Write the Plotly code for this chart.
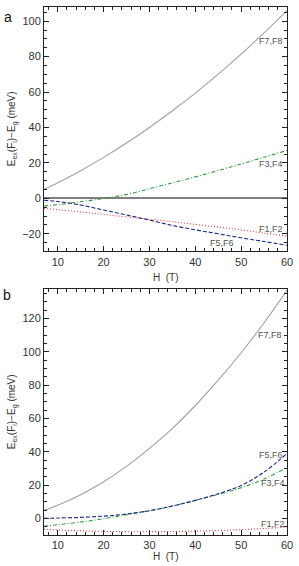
import plotly.graph_objects as go

H = [7, 10, 15, 20, 25, 30, 35, 40, 45, 50, 55, 60]

# Panel a
a_F7F8 = [5.0, 8.8, 15.6, 23.1, 31.2, 40.0, 49.4, 59.4, 70.1, 81.4, 93.4, 106.0]
a_F3F4 = [-4.3, -3.6, -1.9, -0.1, 2.2, 5.4, 8.7, 12.1, 15.7, 19.4, 23.2, 27.0]
a_F1F2 = [-5.6, -6.4, -7.7, -9.1, -10.5, -11.8, -13.2, -14.7, -16.2, -17.8, -19.6, -21.4]
a_F5F6 = [-1.1, -1.8, -3.8, -6.6, -9.4, -12.3, -15.3, -17.8, -20.0, -22.3, -24.4, -26.5]

# Panel b
b_F7F8 = [4.8, 7.9, 14.2, 22.0, 31.2, 42.0, 54.0, 67.8, 83.0, 99.5, 117.5, 137.0]
b_F5F6 = [0.0, 0.2, 0.6, 1.3, 2.6, 4.6, 7.4, 10.8, 14.8, 19.8, 27.8, 39.0]
b_F3F4 = [-4.8, -3.8, -2.2, -0.2, 2.2, 4.6, 7.4, 10.8, 14.4, 18.4, 23.6, 30.5]
b_F1F2 = [-6.5, -7.0, -7.5, -7.8, -8.0, -8.0, -7.9, -7.7, -7.3, -6.8, -6.1, -5.3]

x_ticks = [10, 20, 30, 40, 50, 60]
a_yticks = [-20, 0, 20, 40, 60, 80, 100]
b_yticks = [0, 20, 40, 60, 80, 100, 120]

GRAY = "#a0a0a0"
GREEN = "#2f9a3a"
BLUE = "#1c2a8a"
RED = "#d83a3a"

DASH = "4px,2px"
DASHDOT = "4px,2px,1px,2px"
DOT = "1px,2px"

fig = go.Figure()

def add(y, color, dash, xa, ya, width=1.1):
    fig.add_trace(go.Scatter(x=H, y=y, mode="lines", xaxis=xa, yaxis=ya,
                             line=dict(color=color, dash=dash, width=width, shape="spline"),
                             showlegend=False, hoverinfo="skip"))

add(a_F7F8, GRAY, "solid", "x", "y")
add(a_F3F4, GREEN, DASHDOT, "x", "y")
add(a_F1F2, RED, DOT, "x", "y")
add(a_F5F6, BLUE, DASH, "x", "y")

add(b_F7F8, GRAY, "solid", "x2", "y2")
add(b_F3F4, GREEN, DASHDOT, "x2", "y2")
add(b_F1F2, RED, DOT, "x2", "y2")
add(b_F5F6, BLUE, DASH, "x2", "y2")

font = "Liberation Sans, Arial, sans-serif"
axcol = "#222222"

def xax(anchor):
    return dict(anchor=anchor, range=[7, 60], tickvals=x_ticks, ticks="inside", ticklen=5,
                tickcolor=axcol, showline=True, linecolor=axcol, linewidth=1, mirror="allticks",
                showgrid=False, zeroline=False, tickfont=dict(size=11, color="#333", family=font),
                minor=dict(dtick=2, tick0=0, ticks="inside", ticklen=3, tickcolor=axcol))

def yax(anchor, rng, tv, domain, zero):
    return dict(anchor=anchor, range=rng, tickvals=tv, ticks="inside", ticklen=5, domain=domain,
                tickcolor=axcol, showline=True, linecolor=axcol, linewidth=1, mirror="allticks",
                showgrid=False, zeroline=zero, zerolinecolor="#808080", zerolinewidth=2,
                tickfont=dict(size=11, color="#333", family=font),
                minor=dict(dtick=5, tick0=0, ticks="inside", ticklen=3, tickcolor=axcol))

fig.update_layout(
    width=299, height=566,
    margin=dict(l=44, r=9, t=6, b=31),
    paper_bgcolor="white", plot_bgcolor="white",
    font=dict(family=font, color="#333"),
    xaxis=xax("y"),
    yaxis=yax("x", [-30, 108], a_yticks, [0.537, 1.0], True),
    xaxis2=xax("y2"),
    yaxis2=yax("x2", [-10, 137.5], b_yticks, [0.0, 0.465], False),
)

ann = []
def label(text, x, y, xr, yr):
    ann.append(dict(text=text, x=x, y=y, xref=xr, yref=yr, showarrow=False,
                    font=dict(size=9, color="#555", family=font)))

label("F7,F8", 56.6, 89, "x", "y")
label("F3,F4", 56.6, 19.5, "x", "y")
label("F1,F2", 56.6, -17.3, "x", "y")
label("F5,F6", 45.8, -25.5, "x", "y")

label("F7,F8", 56.2, 110, "x2", "y2")
label("F5,F6", 56.6, 37.8, "x2", "y2")
label("F3,F4", 57.0, 21, "x2", "y2")
label("F1,F2", 57.0, -3.5, "x2", "y2")

ytitle = "E<sub>ex</sub>(F<sub>i</sub>)\u2212E<sub>g</sub> (meV)"
for yr in ["y domain", "y2 domain"]:
    ann.append(dict(text=ytitle, x=0, xref="paper", y=0.5, yref=yr, xshift=-32,
                    xanchor="center", yanchor="middle",
                    textangle=-90, showarrow=False, font=dict(size=10, color="#333", family=font)))
for xr, yr, sh in [("x domain", "y domain", -26), ("x2 domain", "y2 domain", -21)]:
    ann.append(dict(text="H  (T)", x=0.5, xref=xr, y=0, yref=yr, yshift=sh,
                    xanchor="center", yanchor="middle",
                    showarrow=False, font=dict(size=10, color="#333", family=font)))

ann.append(dict(text="a", x=0, xref="paper", xshift=-36, y=1, yref="y domain", yshift=-10,
                xanchor="center", yanchor="middle",
                showarrow=False, font=dict(size=14, color="#111", family=font)))
ann.append(dict(text="b", x=0, xref="paper", xshift=-37, y=1, yref="y2 domain", yshift=-6,
                xanchor="center", yanchor="middle",
                showarrow=False, font=dict(size=14, color="#111", family=font)))

fig.update_layout(annotations=ann)
fig.write_html("out.html", config={"displayModeBar": False},
               post_script="document.body.style.margin='0';")
